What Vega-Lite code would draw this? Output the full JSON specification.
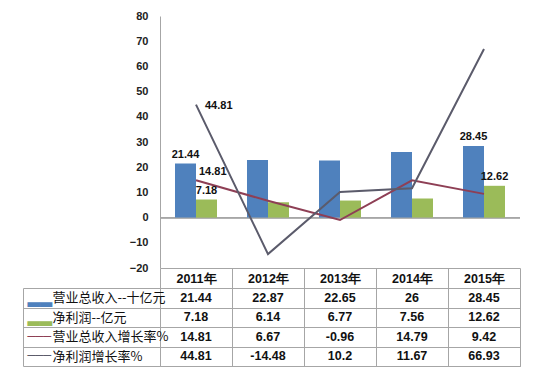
{
  "$schema": "https://vega.github.io/schema/vega-lite/v6.json",
  "background": "white",
  "padding": {"left": 22, "top": 10, "right": 5, "bottom": 5},
  "spacing": 20,
  "bounds": "flush",
  "config": {
    "font": "Liberation Sans",
    "view": {"stroke": null}
  },
  "data": {
    "values": [
      {"year": "2011年", "series": "营业总收入--十亿元", "value": 21.44},
      {"year": "2011年", "series": "净利润--亿元", "value": 7.18},
      {"year": "2011年", "series": "营业总收入增长率%", "value": 14.81},
      {"year": "2011年", "series": "净利润增长率%", "value": 44.81},
      {"year": "2012年", "series": "营业总收入--十亿元", "value": 22.87},
      {"year": "2012年", "series": "净利润--亿元", "value": 6.14},
      {"year": "2012年", "series": "营业总收入增长率%", "value": 6.67},
      {"year": "2012年", "series": "净利润增长率%", "value": -14.48},
      {"year": "2013年", "series": "营业总收入--十亿元", "value": 22.65},
      {"year": "2013年", "series": "净利润--亿元", "value": 6.77},
      {"year": "2013年", "series": "营业总收入增长率%", "value": -0.96},
      {"year": "2013年", "series": "净利润增长率%", "value": 10.2},
      {"year": "2014年", "series": "营业总收入--十亿元", "value": 26},
      {"year": "2014年", "series": "净利润--亿元", "value": 7.56},
      {"year": "2014年", "series": "营业总收入增长率%", "value": 14.79},
      {"year": "2014年", "series": "净利润增长率%", "value": 11.67},
      {"year": "2015年", "series": "营业总收入--十亿元", "value": 28.45},
      {"year": "2015年", "series": "净利润--亿元", "value": 12.62},
      {"year": "2015年", "series": "营业总收入增长率%", "value": 9.42},
      {"year": "2015年", "series": "净利润增长率%", "value": 66.93}
    ]
  },
  "vconcat": [
    {
      "width": 360,
      "height": 252,
      "encoding": {
        "x": {
          "field": "year", "type": "nominal",
          "scale": {"paddingInner": 0.4167, "paddingOuter": 0.2083},
          "axis": {"orient": "bottom", "title": null, "labels": false, "ticks": false, "domain": true, "domainColor": "#A6A6A6", "grid": false}
        },
        "y": {
          "field": "value", "type": "quantitative",
          "scale": {"domain": [-20, 80], "nice": false, "zero": false},
          "axis": {"title": null, "values": [-20, -10, 0, 10, 20, 30, 40, 50, 60, 70, 80], "grid": false, "ticks": false, "domain": true, "domainColor": "#A6A6A6", "labelFont": "Liberation Sans", "labelFontWeight": "bold", "labelFontSize": 11, "labelColor": "#222222", "labelPadding": 12}
        }
      },
      "layer": [
        {
          "mark": {"type": "rule", "color": "#A6A6A6", "strokeWidth": 1},
          "encoding": {"x": null, "y": {"datum": 0, "type": "quantitative"}}
        },
        {
          "transform": [{"filter": {"field": "series", "oneOf": ["营业总收入--十亿元", "净利润--亿元"]}}],
          "mark": {"type": "bar"},
          "encoding": {
            "xOffset": {"field": "series", "type": "nominal", "sort": ["营业总收入--十亿元", "净利润--亿元"], "scale": {"paddingInner": 0, "paddingOuter": 0}},
            "color": {"field": "series", "type": "nominal", "scale": {"domain": ["营业总收入--十亿元", "净利润--亿元", "营业总收入增长率%", "净利润增长率%"], "range": ["#4F81BD", "#9BBB59", "#8E3F55", "#5B5B6B"]}, "legend": null}
          }
        },
        {
          "transform": [{"filter": {"field": "series", "oneOf": ["营业总收入增长率%", "净利润增长率%"]}}],
          "mark": {"type": "line", "strokeWidth": 2},
          "encoding": {
            "color": {"field": "series", "type": "nominal", "legend": null}
          }
        },
        {
          "transform": [{"filter": "(datum.series === '营业总收入--十亿元' || datum.series === '净利润--亿元') && (datum.year === '2011年' || datum.year === '2015年')"}],
          "mark": {"type": "text", "font": "Liberation Sans", "fontWeight": "bold", "fontSize": 11, "color": "#111111", "baseline": "bottom", "dy": -4},
          "encoding": {
            "xOffset": {"field": "series", "type": "nominal", "sort": ["营业总收入--十亿元", "净利润--亿元"]},
            "text": {"field": "value", "type": "nominal"}
          }
        },
        {
          "transform": [{"filter": "datum.series === '净利润增长率%' && datum.year === '2011年'"}],
          "mark": {"type": "text", "font": "Liberation Sans", "fontWeight": "bold", "fontSize": 11, "color": "#111111", "align": "left", "baseline": "middle", "dx": 9, "dy": 1},
          "encoding": {"text": {"field": "value", "type": "nominal"}}
        },
        {
          "transform": [{"filter": "datum.series === '营业总收入增长率%' && datum.year === '2011年'"}],
          "mark": {"type": "text", "font": "Liberation Sans", "fontWeight": "bold", "fontSize": 11, "color": "#111111", "align": "left", "baseline": "middle", "dx": 3, "dy": -8},
          "encoding": {"text": {"field": "value", "type": "nominal"}}
        }
      ]
    },
    {
      "width": 360,
      "height": 78,
      "view": {"stroke": "#A6A6A6"},
      "layer": [
        {
          "mark": {"type": "text", "font": "Liberation Sans", "fontWeight": "bold", "fontSize": 12.5, "color": "#111111"},
          "encoding": {
            "x": {
              "field": "year", "type": "nominal",
              "scale": {"type": "band", "paddingInner": 0, "paddingOuter": 0},
              "axis": {"orient": "top", "title": null, "domain": false, "ticks": true, "tickBand": "extent", "tickSize": 20, "tickColor": "#A6A6A6", "grid": true, "gridColor": "#A6A6A6", "labelFont": "Liberation Sans", "labelFontWeight": "bold", "labelFontSize": 12.5, "labelColor": "#111111", "labelBaseline": "middle", "labelPadding": -10, "labelAngle": 0}
            },
            "y": {
              "field": "series", "type": "nominal",
              "sort": ["营业总收入--十亿元", "净利润--亿元", "营业总收入增长率%", "净利润增长率%"],
              "scale": {"type": "band", "paddingInner": 0, "paddingOuter": 0},
              "axis": {"orient": "left", "title": null, "domain": false, "ticks": true, "tickBand": "extent", "tickSize": 137, "tickColor": "#A6A6A6", "grid": true, "gridColor": "#A6A6A6", "labelAlign": "left", "labelBaseline": "middle", "labelPadding": -29, "labelFont": "Noto Sans CJK SC", "labelFontSize": 13, "labelColor": "#111111", "labelLimit": 300}
            },
            "text": {"field": "value", "type": "nominal"}
          }
        },
        {
          "mark": {"type": "text", "opacity": 0},
          "encoding": {
            "y": {
              "field": "series", "type": "nominal",
              "sort": ["营业总收入--十亿元", "净利润--亿元", "营业总收入增长率%", "净利润增长率%"],
              "axis": {"orient": "left", "offset": 137, "title": null, "domain": true, "domainColor": "#A6A6A6", "ticks": false, "grid": false, "labelAlign": "left", "labelBaseline": "middle", "labelPadding": -4, "labelFont": "DejaVu Sans",
                "labelFontSize": {"condition": {"test": "indexof(datum.value, '增长率') >= 0", "value": 13}, "value": 16},
                "labelExpr": "indexof(datum.value, '增长率') >= 0 ? '───' : '▂▂'",
                "labelColor": {"condition": [
                  {"test": "datum.value === '营业总收入--十亿元'", "value": "#4F81BD"},
                  {"test": "datum.value === '净利润--亿元'", "value": "#9BBB59"},
                  {"test": "datum.value === '营业总收入增长率%'", "value": "#8E3F55"}
                ], "value": "#5B5B6B"}
              }
            },
            "text": {"value": ""}
          }
        }
      ],
      "resolve": {"axis": {"y": "independent"}}
    }
  ]
}
